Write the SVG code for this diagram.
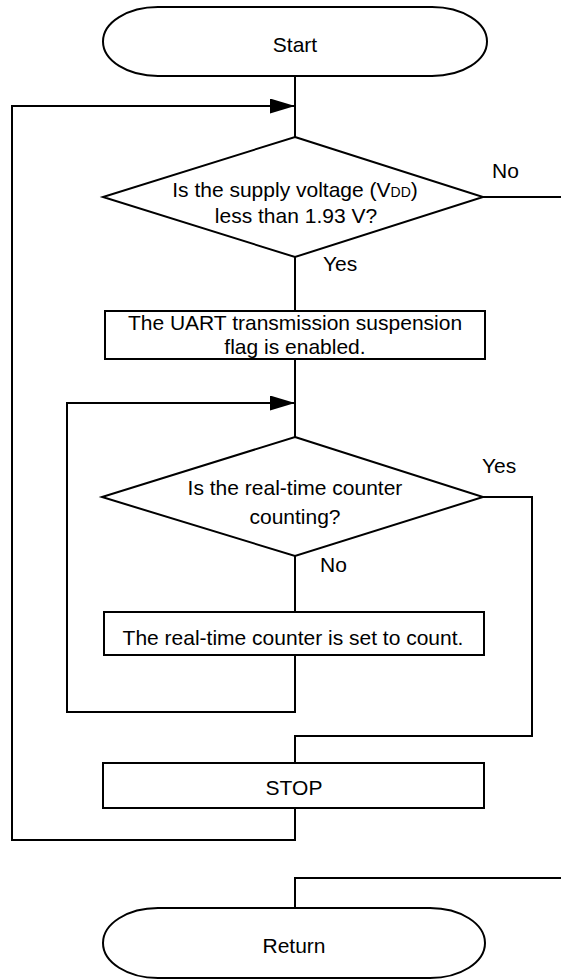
<svg xmlns="http://www.w3.org/2000/svg" width="561" height="980" viewBox="0 0 561 980">
<style>
.s{fill:#fff;stroke:#000;stroke-width:2}
.c{fill:none;stroke:#000;stroke-width:2}
text{font-family:"Liberation Sans",Arial,Helvetica,sans-serif;font-size:21px;fill:#000}
.m{text-anchor:middle}
</style>
<defs>
<marker id="arr" viewBox="0 0 25 15" refX="25" refY="7.5" markerWidth="25" markerHeight="15" markerUnits="userSpaceOnUse" orient="auto">
<path d="M0,0 L25,7.5 L0,15 Z" fill="#000"/>
</marker>
</defs>
<rect width="561" height="980" fill="#fff"/>
<g id="connectors">
<path class="c" d="M295,76 V137"/>
<path class="c" d="M295,808 V840 H12 V106 H295" marker-end="url(#arr)"/>
<path class="c" d="M483,197 H561"/>
<path class="c" d="M295,257 V311"/>
<path class="c" d="M295,359 V437"/>
<path class="c" d="M295,655 V712 H67 V403 H295" marker-end="url(#arr)"/>
<path class="c" d="M295,556 V612"/>
<path class="c" d="M483,497 H532 V736 H295 V763"/>
<path class="c" d="M561,878 H295 V908"/>
<text x="492" y="178">No</text>
<text x="323" y="271">Yes</text>
<text x="482" y="473">Yes</text>
<text x="320" y="572">No</text>
</g>
<g id="start">
<path class="s" d="M158,7 H432 A55,34.5 0 0 1 432,76 H158 A55,34.5 0 0 1 158,7 Z"/>
<text class="m" x="295" y="52">Start</text>
</g>
<g id="decision1">
<polygon class="s" points="295,137 483,197 295,257 103,197"/>
<text class="m" x="295" y="197">Is the supply voltage (V<tspan font-size="14">DD</tspan>)</text>
<text class="m" x="296" y="223">less than 1.93 V?</text>
</g>
<g id="uart">
<rect class="s" x="105" y="311" width="380" height="48"/>
<text class="m" x="295" y="330">The UART transmission suspension</text>
<text class="m" x="295" y="354">flag is enabled.</text>
</g>
<g id="decision2">
<polygon class="s" points="295,437 483,497 295,556 102,497"/>
<text class="m" x="295" y="495">Is the real-time counter</text>
<text class="m" x="295" y="524">counting?</text>
</g>
<g id="setcount">
<rect class="s" x="104" y="612" width="380" height="43"/>
<text class="m" x="293" y="645">The real-time counter is set to count.</text>
</g>
<g id="stop">
<rect class="s" x="103" y="763" width="381" height="45"/>
<text class="m" x="294" y="795">STOP</text>
</g>
<g id="return">
<path class="s" d="M158,908 H430 A55,35 0 0 1 430,978 H158 A55,35 0 0 1 158,908 Z"/>
<text class="m" x="294" y="953">Return</text>
</g>
</svg>
